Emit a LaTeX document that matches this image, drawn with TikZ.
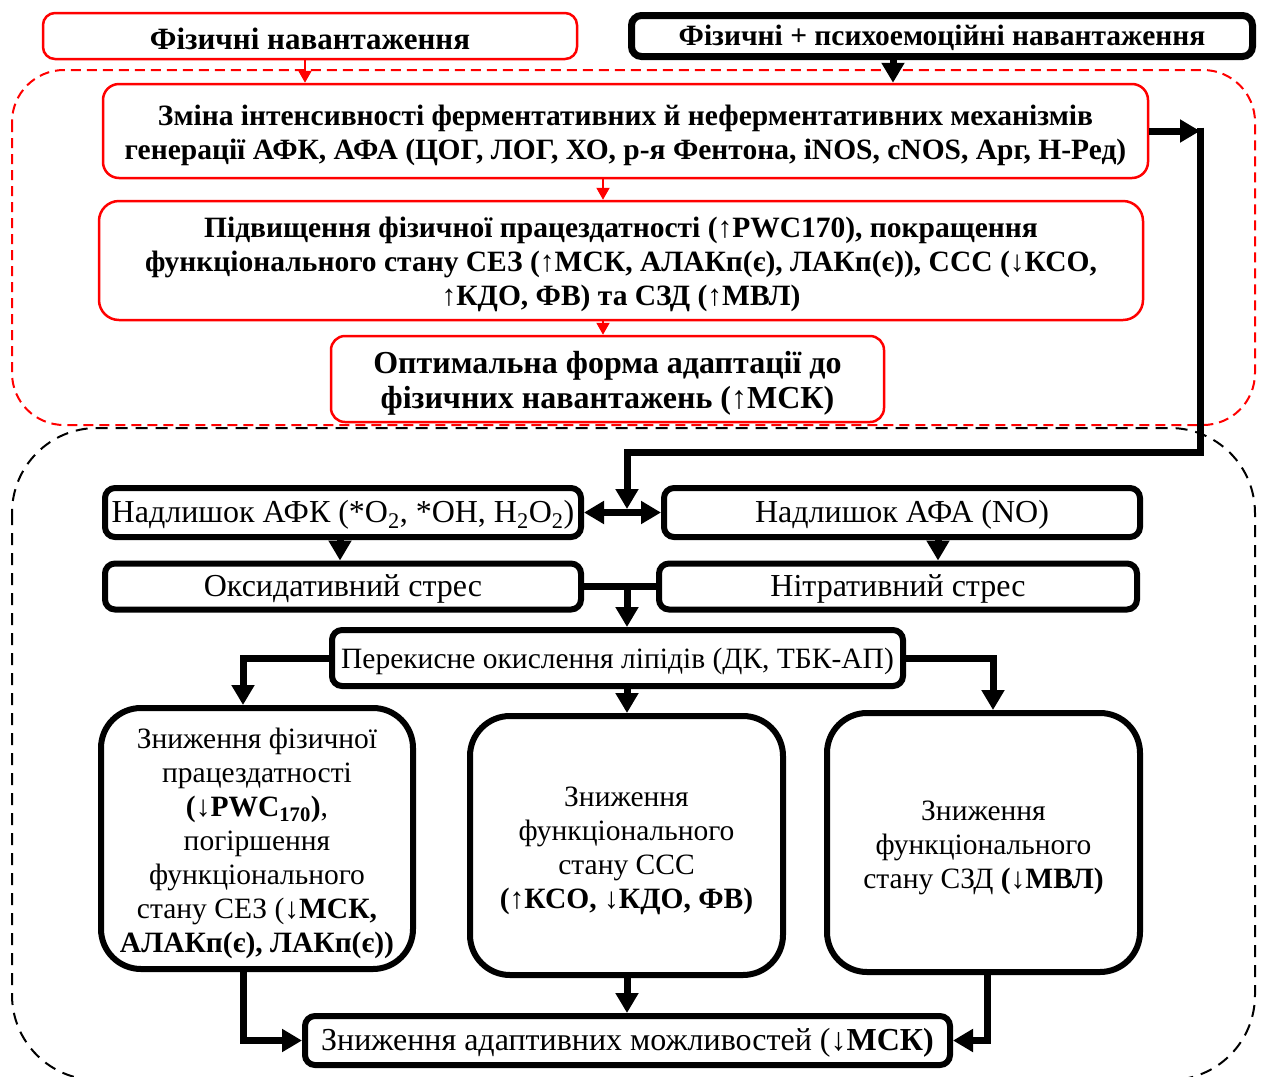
\documentclass[tikz,border=0pt]{standalone}
\usepackage{fontspec}
\setmainfont{Liberation Serif}
\usetikzlibrary{arrows.meta,calc}
\begin{document}
\begin{tikzpicture}[x=1pt,y=-1pt,
  redbox/.style={draw=red, line width=2.5pt, rounded corners=12pt, fill=white, inner sep=0pt},
  topbox/.style={draw=black, line width=7pt, rounded corners=10pt, fill=white, inner sep=0pt},
  blkbox/.style={draw=black, line width=6pt, rounded corners=10pt, fill=white, inner sep=0pt},
  bigbox/.style={blkbox, rounded corners=40pt},
  boldtxt/.style={align=center, inner sep=0pt, font=\fontsize{29.5}{34}\selectfont\bfseries},
  regtxt/.style={align=center, inner sep=0pt, font=\fontsize{29.5}{34}\selectfont},
  bigtxt/.style={align=center, inner sep=0pt, font=\fontsize{32}{36}\selectfont},
  redarr/.style={draw=red, line width=2pt, -{Triangle[width=13pt,length=12pt]}},
  conn/.style={draw=black, line width=7pt},
  arr/.style={conn, -{Triangle[width=22pt,length=20pt]}},
  dblarr/.style={conn, {Triangle[width=22pt,length=20pt]}-{Triangle[width=22pt,length=20pt]}},
  reddash/.style={draw=red, line width=2pt, dash pattern=on 10pt off 6pt},
  blkdash/.style={draw=black, line width=2pt, dash pattern=on 12pt off 8pt}
]
\clip (0,0) rectangle (1262,1077);
\fill[white] (0,0) rectangle (1262,1077);
% regions
\draw[reddash, rounded corners=52pt] (12,70) rectangle (1255,425);
\draw[blkdash, rounded corners=85pt] (12,428) rectangle (1255,1080);

% top boxes
\node[redbox, minimum width=534pt, minimum height=46pt] (n1) at (310,36) {};
\node[boldtxt, font=\fontsize{31}{34}\selectfont\bfseries] (n1t) at ([yshift=-3pt]n1.center) {Фізичні навантаження};
\node[topbox, minimum width=621pt, minimum height=41pt] (n2) at (942,36) {};
\node[boldtxt] (n2t) at ([yshift=-2pt]n2.center) {Фізичні + психоемоційні навантаження};
\node[redbox, rounded corners=16pt, minimum width=1045pt, minimum height=94pt] (n3) at (625.5,131) {};
\node[boldtxt] (n3t) at ([yshift=-4pt]n3.center)
  {Зміна інтенсивності ферментативних й неферментативних механізмів\\
   генерації АФК, АФА (ЦОГ, ЛОГ, ХО, р-я Фентона, iNOS, cNOS, Арг, Н-Ред)};
\node[redbox, rounded corners=20pt, minimum width=1044pt, minimum height=119pt] (n4) at (621,260.5) {};
\node[boldtxt] (n4t) at ([yshift=-4pt]n4.center)
  {Підвищення фізичної працездатності (↑PWC170), покращення\\
   функціонального стану СЕЗ (↑МСК, АЛАКп(є), ЛАКп(є)), ССС (↓КСО,\\
   ↑КДО, ФВ) та СЗД (↑МВЛ)};
\node[redbox, rounded corners=14pt, minimum width=553pt, minimum height=86pt] (n5) at (607.5,379) {};
\node[boldtxt, font=\fontsize{32}{35}\selectfont\bfseries] (n5t) at ([yshift=-4pt]n5.center)
  {Оптимальна форма адаптації до\\ фізичних навантажень (↑МСК)};

% lower boxes
\node[blkbox, minimum width=476pt, minimum height=49pt] (afk) at (343,512.5) {};
\node[bigtxt] (afkt) at ([yshift=-2pt]afk.center)
  {Надлишок АФК (*O\textsubscript{2}, *OH, H\textsubscript{2}O\textsubscript{2})};
\node[blkbox, minimum width=476pt, minimum height=49pt] (afa) at (902,512.5) {};
\node[bigtxt] (afat) at ([yshift=-2pt]afa.center) {Надлишок АФА (NO)};
\node[blkbox, minimum width=476pt, minimum height=46pt] (oks) at (343,586.5) {};
\node[bigtxt] (okst) at ([yshift=-2pt]oks.center) {Оксидативний стрес};
\node[blkbox, minimum width=478pt, minimum height=46pt] (nit) at (898,586.5) {};
\node[bigtxt] (nitt) at ([yshift=-2pt]nit.center) {Нітративний стрес};
\node[blkbox, minimum width=571pt, minimum height=56pt] (per) at (617.5,658) {};
\node[regtxt] (pert) at ([yshift=-3pt]per.center) {Перекисне окислення ліпідів (ДК, ТБК-АП)};
\node[bigbox, minimum width=312pt, minimum height=261pt] (lb) at (257,838.5) {};
\node[regtxt] (lbt) at ([yshift=-5pt]lb.center)
  {Зниження фізичної\\ працездатності\\ \textbf{(↓PWC\textsubscript{170})},\\ погіршення\\ функціонального\\
   стану СЕЗ (\textbf{↓МСК,}\\ \textbf{АЛАКп(є), ЛАКп(є))}};
\node[bigbox, minimum width=313pt, minimum height=259pt] (mb) at (626.5,845.5) {};
\node[regtxt] (mbt) at ([yshift=-5pt]mb.center)
  {Зниження\\ функціонального\\ стану ССС\\ \textbf{(↑КСО, ↓КДО, ФВ)}};
\node[bigbox, minimum width=313pt, minimum height=259pt] (rb) at (983.5,842.5) {};
\node[regtxt] (rbt) at ([yshift=-5pt]rb.center)
  {Зниження\\ функціонального\\ стану СЗД \textbf{(↓МВЛ)}};
\node[blkbox, minimum width=645pt, minimum height=49pt] (bot) at (627.5,1040.5) {};
\node[bigtxt] (bott) at ([yshift=-2pt]bot.center)
  {Зниження адаптивних можливостей (\textbf{↓МСК)}};

% coordinates for the loop
\coordinate (rc) at (1200,131);
\coordinate (rct) at (1200,127.5);
\coordinate (lc) at (1200,452);
\coordinate (mc) at (627,452);
\coordinate (jt) at (627,509);

% red arrows
\draw[redarr] (305,0 |- n1.south) -- (305,0 |- n3.north);
\draw[redarr] (603,0 |- n3.south) -- (603,0 |- n4.north);
\draw[redarr] (603,0 |- n4.south) -- (603,0 |- n5.north);
% black arrows
\draw[arr] (893,0 |- n2.south) -- (893,0 |- n3.north);
\draw[arr] (n3.east) -- (rc);
\draw[conn, line join=miter] (rct) -- (lc) -- (mc) -- ++(0,10);
\draw[arr] (mc) -- (jt);
\draw[dblarr] (afk.east) -- (afa.west);
\draw[arr] (340,0 |- afk.south) -- (340,0 |- oks.north);
\draw[arr] (938,0 |- afa.south) -- (938,0 |- nit.north);
\draw[conn] (oks.east) -- (nit.west);
\draw[arr] (627,0 |- oks.east) -- (627,0 |- per.north);
\draw[arr, line join=miter] (per.west) -| (243,0 |- lb.north);
\draw[arr] (627,0 |- per.south) -- (627,0 |- mb.north);
\draw[arr, line join=miter] (per.east) -| (993,0 |- rb.north);
\draw[arr, line join=miter] (243,0 |- lb.south) |- (bot.west);
\draw[arr] (627,0 |- mb.south) -- (627,0 |- bot.north);
\draw[arr, line join=miter] (987,0 |- rb.south) |- (bot.east);
\end{tikzpicture}
\end{document}
